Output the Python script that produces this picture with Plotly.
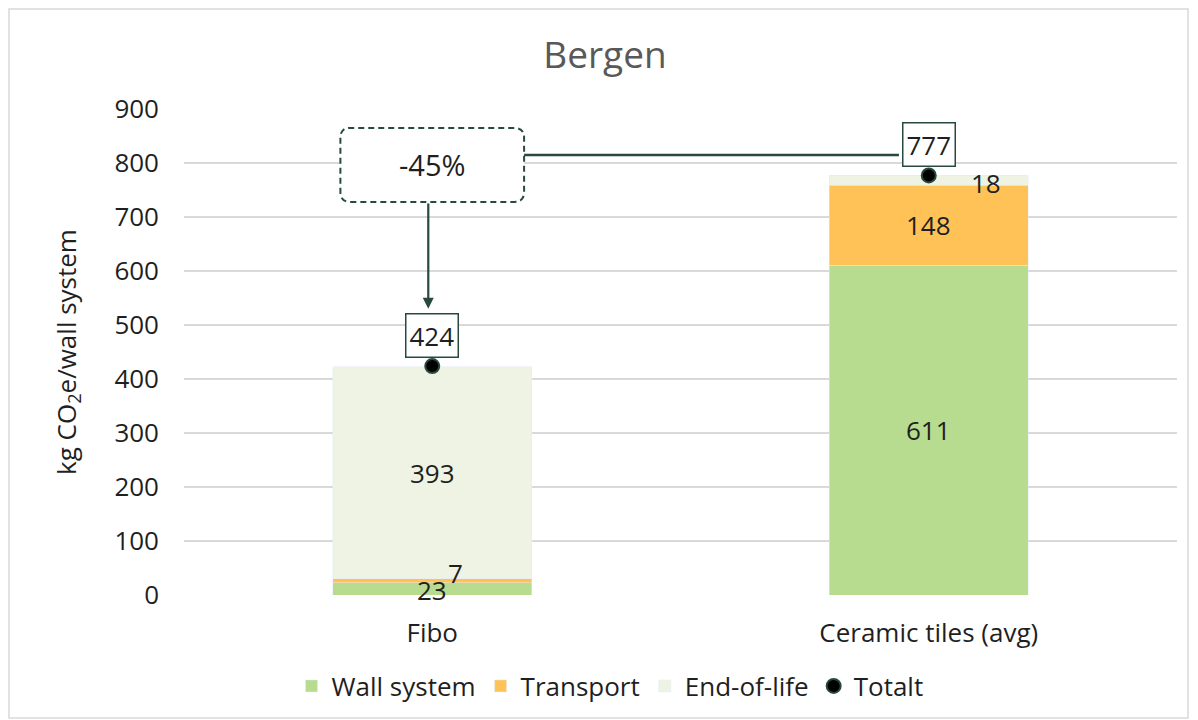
import plotly.graph_objects as go

categories = ["Fibo", "Ceramic tiles (avg)"]
wall_system = [23, 611]
transport = [7, 148]
end_of_life = [393, 18]
totals = [424, 777]
change_label = "-45%"

FONT = "Open Sans"
TXT = "#1f1f1f"
DARK = "#284a3e"
xs = [0, 1]
OFF = 8  # page body margin
FS = 26

fig = go.Figure()
fig.add_trace(go.Bar(x=xs, y=wall_system, name="Wall system", marker_color="#b8dc8f", width=0.4))
fig.add_trace(go.Bar(x=xs, y=transport, name="Transport", marker_color="#ffc257", width=0.4))
fig.add_trace(go.Bar(x=xs, y=end_of_life, name="End-of-life", marker_color="#eff3e3", width=0.4))
fig.add_trace(go.Scatter(x=xs, y=totals, name="Totalt", mode="markers",
                         marker=dict(color="black", size=14, line=dict(color=DARK, width=2))))

ann = []
for i in xs:
    w, t, e = wall_system[i], transport[i], end_of_life[i]
    if i == 0:
        ann.append(dict(x=i, y=w / 2, text=str(w), showarrow=False, yshift=-1))
        ann.append(dict(x=i, y=w + t / 2, text=str(t), showarrow=False, xshift=23, yshift=8))
        ann.append(dict(x=i, y=w + t + e / 2, text=str(e), showarrow=False))
    else:
        ann.append(dict(x=i, y=w / 2, text=str(w), showarrow=False))
        ann.append(dict(x=i, y=w + t / 2, text=str(t), showarrow=False))
        ann.append(dict(x=i, y=w + t + e / 2, text=str(e), showarrow=False, xshift=57, yshift=-3))
for i in xs:
    ann.append(dict(x=i, y=totals[i], text=str(totals[i]), showarrow=False, yshift=31,
                    bordercolor=DARK, borderwidth=1.5, borderpad=3, bgcolor="white"))
for a in ann:
    a["font"] = dict(family=FONT, size=FS, color=TXT)

ann.append(dict(x=0, y=798, text=change_label, showarrow=False,
                font=dict(family=FONT, size=29, color=TXT)))
ann.append(dict(x=-0.008, y=530, ax=-0.008, ay=728, axref="x", ayref="y", xref="x", yref="y",
                text="", showarrow=True, arrowhead=2, arrowsize=1, arrowwidth=2.2, arrowcolor=DARK))

shapes = []
x0, x1, y0, y1 = -0.185, 0.185, 728, 865
rx, ry = 0.02, 18
path = (f"M {x0+rx},{y0} L {x1-rx},{y0} Q {x1},{y0} {x1},{y0+ry} L {x1},{y1-ry} "
        f"Q {x1},{y1} {x1-rx},{y1} L {x0+rx},{y1} Q {x0},{y1} {x0},{y1-ry} L {x0},{y0+ry} "
        f"Q {x0},{y0} {x0+rx},{y0} Z")
shapes.append(dict(type="path", path=path, xref="x", yref="y",
                   line=dict(color=DARK, width=2, dash="6px,4px"), fillcolor="white", layer="above"))
shapes.append(dict(type="line", xref="x", yref="y", x0=0.185, x1=0.94, y0=815, y1=815,
                   line=dict(color=DARK, width=2.5)))
pw, ph = 993, 486
shapes.append(dict(type="rect", xref="paper", yref="paper",
                   x0=(OFF + 1 - 184) / pw, x1=(1188 - 184) / pw,
                   y0=(595 - 718) / ph, y1=(595 - (OFF + 1)) / ph,
                   line=dict(color="#d9d9d9", width=1.5), layer="below"))

fig.update_layout(
    width=1198, height=720,
    margin=dict(l=184 - OFF, r=1198 + OFF - 1177, t=109 - OFF, b=720 + OFF - 595),
    paper_bgcolor="white", plot_bgcolor="white",
    barmode="stack",
    font=dict(family=FONT, color=TXT),
    title=dict(text="Bergen", x=(605 - OFF) / 1198, xref="container", y=1 - (55 - OFF) / 720, yref="container",
               xanchor="center", yanchor="middle", font=dict(family=FONT, size=37, color="#595959")),
    xaxis=dict(tickmode="array", tickvals=xs, ticktext=categories, range=[-0.5, 1.5],
               tickfont=dict(family=FONT, size=FS, color=TXT), showgrid=False, zeroline=False,
               showline=False, ticks="", ticklabelstandoff=20),
    yaxis=dict(range=[0, 900], dtick=100, gridcolor="#d9d9d9", gridwidth=1.5, zeroline=False,
               tickfont=dict(family=FONT, size=FS, color=TXT), ticks="", ticklabelstandoff=24,
               title=dict(text="kg CO<sub>2</sub>e/wall system", font=dict(family=FONT, size=FS, color=TXT),
                          standoff=30)),
    legend=dict(orientation="h", xref="container", yref="container", x=(610 - OFF) / 1198,
                y=1 - (686 - OFF) / 720, traceorder="normal",
                xanchor="center", yanchor="middle", font=dict(family=FONT, size=FS, color=TXT),
                itemwidth=30, tracegroupgap=0),
    annotations=ann,
    shapes=shapes,
)
fig.write_html("out.html")
